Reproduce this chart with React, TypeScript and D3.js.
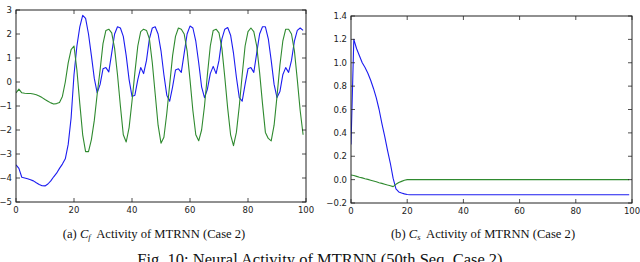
import React from "react";
import * as d3 from "d3";

const steps: number[] = d3.range(0, 100);

const cfGreen: number[] = [
  -0.45, -0.3, -0.45, -0.47, -0.48, -0.48, -0.5, -0.53, -0.58, -0.65,
  -0.73, -0.8, -0.87, -0.92, -0.9, -0.85, -0.6, 0.0, 0.8, 1.35,
  1.5, 0.5, -0.9, -2.2, -2.9, -2.9, -2.4, -1.6, -0.5, 0.5,
  1.6, 2.15, 2.2, 2.05, 1.4, 0.3, -1.0, -2.2, -2.5, -1.9,
  -0.8, 0.4, 1.5, 2.1, 2.2, 2.15, 1.8, 0.8, -0.5, -1.8,
  -2.55, -2.3, -1.3, -0.1, 1.1, 1.9, 2.25, 2.2, 2.0, 1.3,
  0.1, -1.2, -2.2, -2.45, -2.0, -1.0, 0.3, 1.5, 2.15, 2.2,
  2.05, 1.4, 0.2, -1.1, -2.2, -2.65, -2.1, -1.0, 0.3, 1.5,
  2.1, 2.25, 2.1, 1.5, 0.4, -0.9, -2.1, -2.35, -2.45, -1.8,
  -0.6, 0.7, 1.7, 2.2, 2.2, 2.0, 1.3, 0.1, -1.2, -2.2,
];

const cfBlue: number[] = [
  -3.45, -3.6, -3.97, -4.0, -4.03, -4.07, -4.12, -4.2, -4.27, -4.32,
  -4.33, -4.25, -4.12, -3.95, -3.8, -3.6, -3.42, -3.2, -2.6, -1.5,
  0.3, 1.5, 2.3, 2.78, 2.65, 2.0, 1.1, 0.15, -0.45, -0.1,
  0.55, 0.6, 0.42, 1.2, 2.0, 2.3, 2.25, 1.9, 1.1, 0.1,
  -0.6, -0.55, 0.1, 0.6, 0.35, 0.9, 1.8, 2.25, 2.3, 2.0,
  1.3, 0.3, -0.55, -0.8, -0.2, 0.5, 0.55, 0.4, 1.2, 2.0,
  2.33, 2.25, 1.7, 0.8, -0.2, -0.65, -0.3, 0.35, 0.65, 0.35,
  0.9, 1.8, 2.2, 2.27, 1.95, 1.2, 0.2, -0.65, -0.8, -0.1,
  0.55, 0.6, 0.4, 1.2, 2.0, 2.3, 2.3, 1.8, 0.9, -0.1,
  -0.65, -0.4, 0.3, 0.6, 0.4, 0.9, 1.7, 2.15, 2.25, 2.15,
];

const csBlue: number[] = [
  0.3, 1.2, 1.12, 1.06, 1.0, 0.96, 0.91, 0.85, 0.78, 0.7,
  0.6, 0.48, 0.37, 0.25, 0.14, 0.01, -0.08, -0.105, -0.115, -0.122,
  -0.127, -0.13, -0.13, -0.13, -0.13, -0.13, -0.13, -0.13, -0.13, -0.13,
  -0.13, -0.13, -0.13, -0.13, -0.13, -0.13, -0.13, -0.13, -0.13, -0.13,
  -0.13, -0.13, -0.13, -0.13, -0.13, -0.13, -0.13, -0.13, -0.13, -0.13,
  -0.13, -0.13, -0.13, -0.13, -0.13, -0.13, -0.13, -0.13, -0.13, -0.13,
  -0.13, -0.13, -0.13, -0.13, -0.13, -0.13, -0.13, -0.13, -0.13, -0.13,
  -0.13, -0.13, -0.13, -0.13, -0.13, -0.13, -0.13, -0.13, -0.13, -0.13,
  -0.13, -0.13, -0.13, -0.13, -0.13, -0.13, -0.13, -0.13, -0.13, -0.13,
  -0.13, -0.13, -0.13, -0.13, -0.13, -0.13, -0.13, -0.13, -0.13, -0.13,
];

const csGreen: number[] = [
  0.04, 0.035, 0.028, 0.021, 0.015, 0.008, 0.002, -0.005, -0.012, -0.019,
  -0.026, -0.032, -0.039, -0.046, -0.052, -0.06, -0.04, -0.025, -0.015, -0.005,
  0.0, 0.0, 0.0, 0.0, 0.0, 0.0, 0.0, 0.0, 0.0, 0.0,
  0.0, 0.0, 0.0, 0.0, 0.0, 0.0, 0.0, 0.0, 0.0, 0.0,
  0.0, 0.0, 0.0, 0.0, 0.0, 0.0, 0.0, 0.0, 0.0, 0.0,
  0.0, 0.0, 0.0, 0.0, 0.0, 0.0, 0.0, 0.0, 0.0, 0.0,
  0.0, 0.0, 0.0, 0.0, 0.0, 0.0, 0.0, 0.0, 0.0, 0.0,
  0.0, 0.0, 0.0, 0.0, 0.0, 0.0, 0.0, 0.0, 0.0, 0.0,
  0.0, 0.0, 0.0, 0.0, 0.0, 0.0, 0.0, 0.0, 0.0, 0.0,
  0.0, 0.0, 0.0, 0.0, 0.0, 0.0, 0.0, 0.0, 0.0, 0.0,
];

const xTicks: number[] = [0, 20, 40, 60, 80, 100];
const cfYTicks: number[] = [-5, -4, -3, -2, -1, 0, 1, 2, 3];
const csYTicks: number[] = [-0.2, 0.0, 0.2, 0.4, 0.6, 0.8, 1.0, 1.2, 1.4];

const BLUE = "#1c1cf0";
const GREEN = "#2f8a2f";

type PanelProps = {
  x0: number; x1: number; y0: number; y1: number;
  yDomain: [number, number];
  yTicks: number[];
  yFmt: (v: number) => string;
  series: { values: number[]; color: string }[];
};

function Panel({ x0, x1, y0, y1, yDomain, yTicks, yFmt, series }: PanelProps) {
  const xs = d3.scaleLinear().domain([0, 100]).range([x0, x1]);
  const ys = d3.scaleLinear().domain(yDomain).range([y1, y0]);
  const line = d3
    .line<number>()
    .x((_, i) => xs(steps[i]))
    .y((d) => ys(d));
  const tl = 4;
  const font = "DejaVu Sans, sans-serif";
  return (
    <g>
      <defs>
        <clipPath id={`clip${x0}`}>
          <rect x={x0} y={y0} width={x1 - x0} height={y1 - y0} />
        </clipPath>
      </defs>
      <g clipPath={`url(#clip${x0})`}>
        {series.map((s, k) => (
          <path key={k} d={line(s.values) || ""} fill="none" stroke={s.color} strokeWidth={1.1} strokeLinejoin="round" />
        ))}
      </g>
      <rect x={x0} y={y0} width={x1 - x0} height={y1 - y0} fill="none" stroke="#222" strokeWidth={1} />
      {xTicks.map((t) => (
        <g key={`x${t}`}>
          <line x1={xs(t)} x2={xs(t)} y1={y1} y2={y1 - tl} stroke="#222" strokeWidth={0.8} />
          <line x1={xs(t)} x2={xs(t)} y1={y0} y2={y0 + tl} stroke="#222" strokeWidth={0.8} />
          <text x={xs(t)} y={y1 + 11} fontSize={8.5} fontFamily={font} textAnchor="middle" fill="#222">
            {t}
          </text>
        </g>
      ))}
      {yTicks.map((t) => (
        <g key={`y${t}`}>
          <line x1={x0} x2={x0 + tl} y1={ys(t)} y2={ys(t)} stroke="#222" strokeWidth={0.8} />
          <line x1={x1} x2={x1 - tl} y1={ys(t)} y2={ys(t)} stroke="#222" strokeWidth={0.8} />
          <text x={x0 - 4} y={ys(t) + 3} fontSize={8.5} fontFamily={font} textAnchor="end" fill="#222">
            {yFmt(t)}
          </text>
        </g>
      ))}
    </g>
  );
}

export default function App() {
  const serif = "Liberation Serif, Times New Roman, serif";
  const intFmt = d3.format("d");
  const decFmt = d3.format(".1f");
  return (
    <svg width={640} height={262} style={{ position: "absolute", left: 0, top: 0, background: "#fff" }}>
      <rect x={0} y={0} width={640} height={262} fill="#fff" />
      <Panel
        x0={16} x1={306} y0={10} y1={202}
        yDomain={[-5, 3]}
        yTicks={cfYTicks}
        yFmt={(v) => intFmt(v)}
        series={[
          { values: cfBlue, color: BLUE },
          { values: cfGreen, color: GREEN },
        ]}
      />
      <Panel
        x0={351} x1={632} y0={16} y1={203}
        yDomain={[-0.2, 1.4]}
        yTicks={csYTicks}
        yFmt={(v) => decFmt(v)}
        series={[
          { values: csBlue, color: BLUE },
          { values: csGreen, color: GREEN },
        ]}
      />
      <text x={154} y={238} fontSize={12.6} fontFamily={serif} textAnchor="middle" fill="#111">
        (a) <tspan fontStyle="italic">C</tspan>
        <tspan fontStyle="italic" fontSize={8.5} dy={2}>f</tspan>
        <tspan dy={-2}>{"\u00a0 Activity of MTRNN (Case 2)"}</tspan>
      </text>
      <text x={483} y={238} fontSize={12.6} fontFamily={serif} textAnchor="middle" fill="#111">
        (b) <tspan fontStyle="italic">C</tspan>
        <tspan fontStyle="italic" fontSize={8.5} dy={2}>s</tspan>
        <tspan dy={-2}>{"\u00a0 Activity of MTRNN (Case 2)"}</tspan>
      </text>
      <text x={320} y={265} fontSize={16.5} fontFamily={serif} textAnchor="middle" fill="#111">
        Fig. 10: Neural Activity of MTRNN (50th Seq. Case 2)
      </text>
    </svg>
  );
}
